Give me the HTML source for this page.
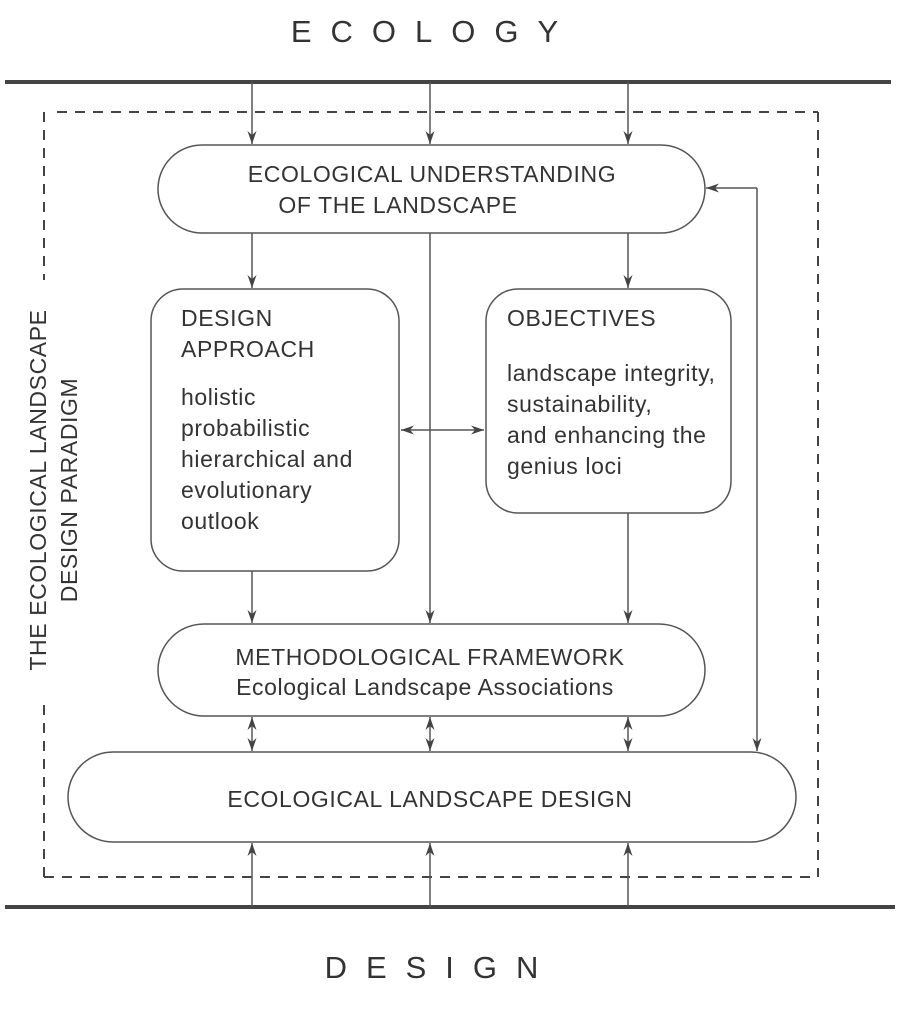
<!DOCTYPE html>
<html><head><style>html,body{margin:0;padding:0;background:#fff}</style></head><body>
<svg width="901" height="1007" viewBox="0 0 901 1007" xmlns="http://www.w3.org/2000/svg" font-family="Liberation Sans, sans-serif" fill="#333">
<defs>
<marker id="a" markerWidth="14" markerHeight="12" refX="13" refY="6" orient="auto" markerUnits="userSpaceOnUse"><path d="M0,1.5 L13,6 L0,10.5 L4,6 Z" fill="#444"/></marker>
<marker id="b" markerWidth="14" markerHeight="12" refX="1" refY="6" orient="auto" markerUnits="userSpaceOnUse"><path d="M14,1.5 L1,6 L14,10.5 L10,6 Z" fill="#444"/></marker>
</defs>
<text x="434" y="42" font-size="31" text-anchor="middle" letter-spacing="19">ECOLOGY</text>
<text x="441" y="978" font-size="31" text-anchor="middle" letter-spacing="19">DESIGN</text>
<line x1="5" y1="82" x2="891" y2="82" stroke="#444" stroke-width="4"/>
<line x1="5" y1="907" x2="895" y2="907" stroke="#444" stroke-width="4"/>
<g stroke="#444" stroke-width="2" stroke-dasharray="10,8" fill="none">
<line x1="57" y1="112" x2="818" y2="112"/>
<line x1="818" y1="112" x2="818" y2="877"/>
<line x1="44" y1="877" x2="818" y2="877"/>
<line x1="44" y1="112" x2="44" y2="280"/>
<line x1="44" y1="705" x2="44" y2="877"/>
</g>
<g stroke="#555" stroke-width="1.5" fill="none">
<rect x="158" y="145" width="547" height="88" rx="44"/>
<rect x="151" y="289" width="248" height="282" rx="32"/>
<rect x="486" y="289" width="245" height="224" rx="32"/>
<rect x="158" y="624" width="547" height="92" rx="46"/>
<rect x="68" y="752" width="728" height="90" rx="45"/>
<g marker-end="url(#a)">
<line x1="252" y1="82" x2="252" y2="144"/>
<line x1="430" y1="82" x2="430" y2="144"/>
<line x1="628" y1="82" x2="628" y2="144"/>
<line x1="252" y1="233" x2="252" y2="288"/>
<line x1="628" y1="233" x2="628" y2="288"/>
<line x1="430" y1="233" x2="430" y2="623"/>
<line x1="252" y1="571" x2="252" y2="623"/>
<line x1="628" y1="513" x2="628" y2="623"/>
<line x1="252" y1="907" x2="252" y2="843"/>
<line x1="430" y1="907" x2="430" y2="843"/>
<line x1="628" y1="907" x2="628" y2="843"/>
<line x1="757" y1="188" x2="757" y2="751"/>
<line x1="757" y1="188" x2="706" y2="188"/>
</g>
<g marker-start="url(#b)" marker-end="url(#a)">
<line x1="401" y1="430" x2="484" y2="430"/>
<line x1="252" y1="717" x2="252" y2="751"/>
<line x1="430" y1="717" x2="430" y2="751"/>
<line x1="628" y1="717" x2="628" y2="751"/>
</g>
</g>
<g font-size="23" letter-spacing="0.6">
<text x="432" y="182" text-anchor="middle">ECOLOGICAL UNDERSTANDING</text>
<text x="398" y="213" text-anchor="middle">OF THE LANDSCAPE</text>
<text x="181" y="326">DESIGN</text>
<text x="181" y="357">APPROACH</text>
<text x="181" y="405">holistic</text>
<text x="181" y="436">probabilistic</text>
<text x="181" y="467">hierarchical and</text>
<text x="181" y="498">evolutionary</text>
<text x="181" y="529">outlook</text>
<text x="507" y="326">OBJECTIVES</text>
<text x="507" y="381">landscape integrity,</text>
<text x="507" y="412">sustainability,</text>
<text x="507" y="443">and enhancing the</text>
<text x="507" y="474">genius loci</text>
<text x="430" y="665" text-anchor="middle">METHODOLOGICAL FRAMEWORK</text>
<text x="425" y="695" text-anchor="middle">Ecological Landscape Associations</text>
<text x="430" y="807" text-anchor="middle">ECOLOGICAL LANDSCAPE DESIGN</text>
<text transform="translate(46,490) rotate(-90)" text-anchor="middle">THE ECOLOGICAL LANDSCAPE</text>
<text transform="translate(77,490) rotate(-90)" text-anchor="middle">DESIGN PARADIGM</text>
</g>
</svg>
</body></html>
